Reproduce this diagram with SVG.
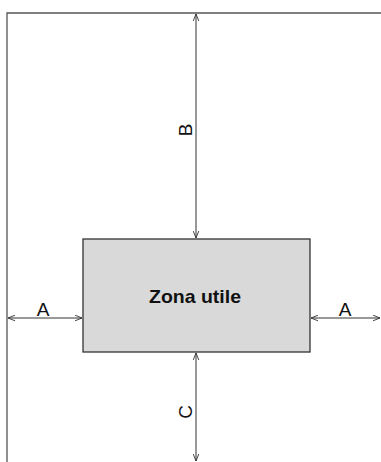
<svg xmlns="http://www.w3.org/2000/svg" width="381" height="462" viewBox="0 0 381 462">
<defs>
<marker id="ah" viewBox="0 0 10 10" refX="10" refY="5" markerWidth="7" markerHeight="7" orient="auto-start-reverse" markerUnits="userSpaceOnUse">
<path d="M0,1 L10,5 L0,9" fill="none" stroke="#333" stroke-width="1.3"/>
</marker>
</defs>
<style>
.ln{stroke:#555;stroke-width:1.3;fill:none}
.dim{stroke:#333;stroke-width:1;fill:none}
.lbl{font-family:"Liberation Sans",Arial,sans-serif;font-size:19px;fill:#111}
</style>
<rect width="381" height="462" fill="#fff"/>
<g id="frame">
<path class="ln" d="M381,13 L7,13 L7,462"/>
</g>
<g id="zona">
<rect x="83" y="239" width="227" height="113" fill="#d9d9d9" stroke="#333" stroke-width="1.3"/>
<text x="195" y="303" text-anchor="middle" class="lbl" font-size="20" font-weight="bold" textLength="92" lengthAdjust="spacingAndGlyphs">Zona utile</text>
</g>
<g id="connectors">
<line class="dim" x1="196" y1="14" x2="196" y2="238" marker-start="url(#ah)" marker-end="url(#ah)"/>
<line class="dim" x1="196" y1="353" x2="196" y2="461" marker-start="url(#ah)" marker-end="url(#ah)"/>
<line class="dim" x1="8" y1="318" x2="82" y2="318" marker-start="url(#ah)" marker-end="url(#ah)"/>
<line class="dim" x1="311" y1="318" x2="380" y2="318" marker-start="url(#ah)" marker-end="url(#ah)"/>
</g>
<g id="labels">
<text class="lbl" transform="translate(192,130) rotate(-90)" text-anchor="middle">B</text>
<text class="lbl" transform="translate(192,412) rotate(-90)" text-anchor="middle">C</text>
<text class="lbl" x="43" y="316" text-anchor="middle">A</text>
<text class="lbl" x="345" y="316" text-anchor="middle">A</text>
</g>
</svg>
